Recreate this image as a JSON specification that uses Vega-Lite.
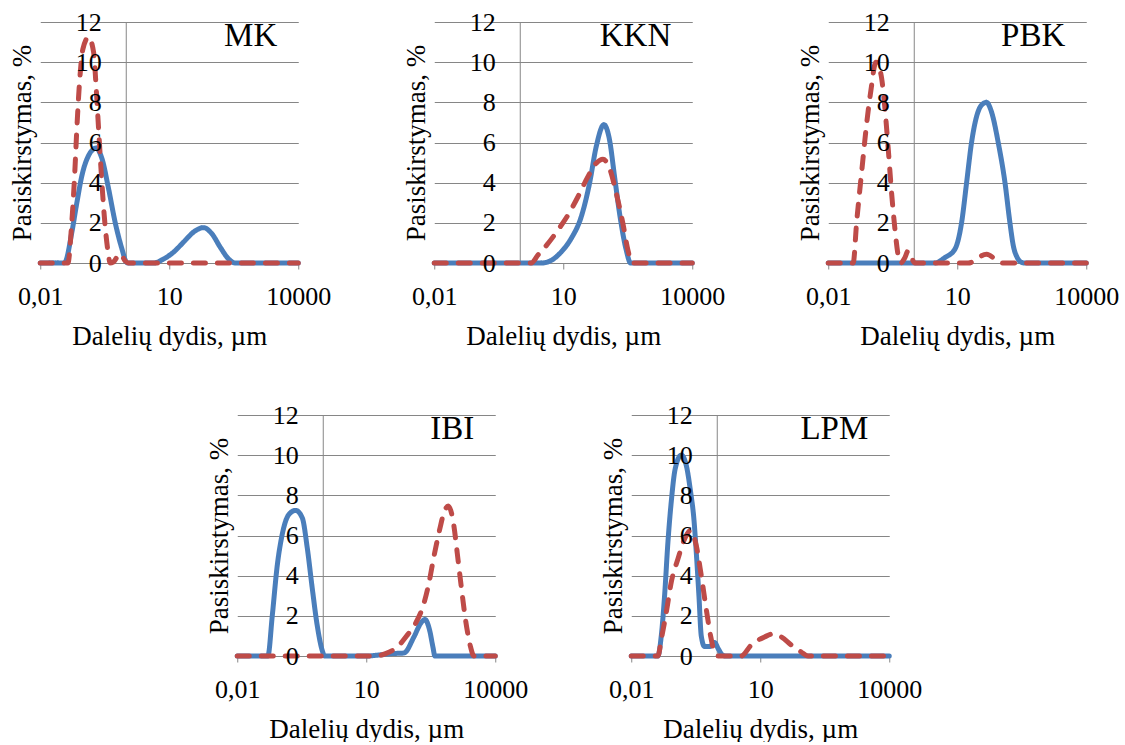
{
  "$schema": "https://vega.github.io/schema/vega-lite/v6.json",
  "padding": {"left": 8, "top": 9, "right": 5, "bottom": 0},
  "datasets": {
    "d": [
      {"p":"MK","s":"a","x":0.01,"y":0},{"p":"MK","s":"a","x":0.034,"y":0},{"p":"MK","s":"a","x":0.038,"y":0.05},{"p":"MK","s":"a","x":0.054,"y":1.5},{"p":"MK","s":"a","x":0.071,"y":3.0},{"p":"MK","s":"a","x":0.093,"y":4.35},{"p":"MK","s":"a","x":0.133,"y":5.35},{"p":"MK","s":"a","x":0.2,"y":5.72},{"p":"MK","s":"a","x":0.272,"y":5.2},{"p":"MK","s":"a","x":0.388,"y":3.7},{"p":"MK","s":"a","x":0.555,"y":2.0},{"p":"MK","s":"a","x":0.794,"y":0.7},{"p":"MK","s":"a","x":1.0,"y":0.05},{"p":"MK","s":"a","x":1.1,"y":0},{"p":"MK","s":"a","x":4.3,"y":0},{"p":"MK","s":"a","x":7.4,"y":0.2},{"p":"MK","s":"a","x":12.6,"y":0.54},{"p":"MK","s":"a","x":21.5,"y":1.04},{"p":"MK","s":"a","x":36.7,"y":1.54},{"p":"MK","s":"a","x":62.8,"y":1.76},{"p":"MK","s":"a","x":97.7,"y":1.46},{"p":"MK","s":"a","x":153,"y":0.79},{"p":"MK","s":"a","x":240,"y":0.2},{"p":"MK","s":"a","x":343,"y":0},{"p":"MK","s":"a","x":10000,"y":0},
      {"p":"KKN","s":"a","x":0.01,"y":0},{"p":"KKN","s":"a","x":3.08,"y":0},{"p":"KKN","s":"a","x":5.26,"y":0.13},{"p":"KKN","s":"a","x":8.97,"y":0.55},{"p":"KKN","s":"a","x":15.3,"y":1.22},{"p":"KKN","s":"a","x":26.2,"y":2.3},{"p":"KKN","s":"a","x":40.9,"y":3.97},{"p":"KKN","s":"a","x":58.5,"y":5.8},{"p":"KKN","s":"a","x":88.3,"y":6.89},{"p":"KKN","s":"a","x":119,"y":6.14},{"p":"KKN","s":"a","x":156,"y":4.3},{"p":"KKN","s":"a","x":204,"y":2.47},{"p":"KKN","s":"a","x":292,"y":0.64},{"p":"KKN","s":"a","x":368,"y":0},{"p":"KKN","s":"a","x":10000,"y":0},
      {"p":"PBK","s":"a","x":0.01,"y":0},{"p":"PBK","s":"a","x":3.02,"y":0},{"p":"PBK","s":"a","x":5.16,"y":0.27},{"p":"PBK","s":"a","x":8.83,"y":0.69},{"p":"PBK","s":"a","x":12.6,"y":2.0},{"p":"PBK","s":"a","x":16.5,"y":4.0},{"p":"PBK","s":"a","x":21.5,"y":6.0},{"p":"PBK","s":"a","x":28.2,"y":7.3},{"p":"PBK","s":"a","x":36.3,"y":7.85},{"p":"PBK","s":"a","x":47.9,"y":8.0},{"p":"PBK","s":"a","x":63.1,"y":7.5},{"p":"PBK","s":"a","x":89.7,"y":6.0},{"p":"PBK","s":"a","x":128.8,"y":4.0},{"p":"PBK","s":"a","x":168,"y":2.0},{"p":"PBK","s":"a","x":199.5,"y":0.9},{"p":"PBK","s":"a","x":251,"y":0.25},{"p":"PBK","s":"a","x":316,"y":0.03},{"p":"PBK","s":"a","x":372,"y":0},{"p":"PBK","s":"a","x":10000,"y":0},
      {"p":"IBI","s":"a","x":0.01,"y":0},{"p":"IBI","s":"a","x":0.0516,"y":0},{"p":"IBI","s":"a","x":0.0652,"y":2.0},{"p":"IBI","s":"a","x":0.0851,"y":4.5},{"p":"IBI","s":"a","x":0.111,"y":6.05},{"p":"IBI","s":"a","x":0.159,"y":7.05},{"p":"IBI","s":"a","x":0.228,"y":7.25},{"p":"IBI","s":"a","x":0.325,"y":6.88},{"p":"IBI","s":"a","x":0.425,"y":5.38},{"p":"IBI","s":"a","x":0.555,"y":3.37},{"p":"IBI","s":"a","x":0.724,"y":1.52},{"p":"IBI","s":"a","x":0.948,"y":0.27},{"p":"IBI","s":"a","x":1.07,"y":0},{"p":"IBI","s":"a","x":10.5,"y":0},{"p":"IBI","s":"a","x":19.7,"y":0.05},{"p":"IBI","s":"a","x":40.3,"y":0.12},{"p":"IBI","s":"a","x":75.2,"y":0.15},{"p":"IBI","s":"a","x":128.5,"y":0.95},{"p":"IBI","s":"a","x":183.7,"y":1.62},{"p":"IBI","s":"a","x":231,"y":1.82},{"p":"IBI","s":"a","x":297,"y":1.29},{"p":"IBI","s":"a","x":355,"y":0.45},{"p":"IBI","s":"a","x":395,"y":0},{"p":"IBI","s":"a","x":10000,"y":0},
      {"p":"LPM","s":"a","x":0.01,"y":0},{"p":"LPM","s":"a","x":0.0417,"y":0},{"p":"LPM","s":"a","x":0.0499,"y":1.0},{"p":"LPM","s":"a","x":0.0596,"y":3.0},{"p":"LPM","s":"a","x":0.0713,"y":5.67},{"p":"LPM","s":"a","x":0.0851,"y":7.67},{"p":"LPM","s":"a","x":0.1054,"y":9.33},{"p":"LPM","s":"a","x":0.1455,"y":10.0},{"p":"LPM","s":"a","x":0.19,"y":9.5},{"p":"LPM","s":"a","x":0.24,"y":8.17},{"p":"LPM","s":"a","x":0.286,"y":6.83},{"p":"LPM","s":"a","x":0.325,"y":5.17},{"p":"LPM","s":"a","x":0.375,"y":3.0},{"p":"LPM","s":"a","x":0.425,"y":1.0},{"p":"LPM","s":"a","x":0.507,"y":0.47},{"p":"LPM","s":"a","x":0.664,"y":0.47},{"p":"LPM","s":"a","x":0.867,"y":0.67},{"p":"LPM","s":"a","x":1.074,"y":0.33},{"p":"LPM","s":"a","x":1.355,"y":0.03},{"p":"LPM","s":"a","x":1.6,"y":0},{"p":"LPM","s":"a","x":10000,"y":0},
      {"p":"MK","s":"b","x":0.01,"y":0},{"p":"MK","s":"b","x":0.044,"y":0},{"p":"MK","s":"b","x":0.054,"y":2.0},{"p":"MK","s":"b","x":0.063,"y":4.35},{"p":"MK","s":"b","x":0.071,"y":6.7},{"p":"MK","s":"b","x":0.082,"y":9.0},{"p":"MK","s":"b","x":0.098,"y":10.65},{"p":"MK","s":"b","x":0.133,"y":11.25},{"p":"MK","s":"b","x":0.174,"y":10.5},{"p":"MK","s":"b","x":0.2,"y":8.7},{"p":"MK","s":"b","x":0.227,"y":6.7},{"p":"MK","s":"b","x":0.262,"y":4.5},{"p":"MK","s":"b","x":0.308,"y":2.35},{"p":"MK","s":"b","x":0.388,"y":0.37},{"p":"MK","s":"b","x":0.417,"y":0},{"p":"MK","s":"b","x":0.5,"y":0.05},{"p":"MK","s":"b","x":0.72,"y":0.46},{"p":"MK","s":"b","x":0.95,"y":0.1},{"p":"MK","s":"b","x":1.12,"y":0},{"p":"MK","s":"b","x":10000,"y":0},
      {"p":"KKN","s":"b","x":0.01,"y":0},{"p":"KKN","s":"b","x":1.8,"y":0},{"p":"KKN","s":"b","x":2.57,"y":0.39},{"p":"KKN","s":"b","x":4.41,"y":0.97},{"p":"KKN","s":"b","x":7.52,"y":1.64},{"p":"KKN","s":"b","x":12.9,"y":2.39},{"p":"KKN","s":"b","x":22,"y":3.3},{"p":"KKN","s":"b","x":37.5,"y":4.3},{"p":"KKN","s":"b","x":58.5,"y":4.97},{"p":"KKN","s":"b","x":83.8,"y":5.17},{"p":"KKN","s":"b","x":119,"y":4.72},{"p":"KKN","s":"b","x":171,"y":3.47},{"p":"KKN","s":"b","x":244,"y":1.97},{"p":"KKN","s":"b","x":319,"y":0.64},{"p":"KKN","s":"b","x":400,"y":0},{"p":"KKN","s":"b","x":10000,"y":0},
      {"p":"PBK","s":"b","x":0.01,"y":0},{"p":"PBK","s":"b","x":0.038,"y":0},{"p":"PBK","s":"b","x":0.0456,"y":2.0},{"p":"PBK","s":"b","x":0.0596,"y":4.5},{"p":"PBK","s":"b","x":0.0778,"y":6.9},{"p":"PBK","s":"b","x":0.0982,"y":8.6},{"p":"PBK","s":"b","x":0.1285,"y":10.0},{"p":"PBK","s":"b","x":0.168,"y":9.4},{"p":"PBK","s":"b","x":0.208,"y":7.7},{"p":"PBK","s":"b","x":0.248,"y":5.7},{"p":"PBK","s":"b","x":0.297,"y":3.5},{"p":"PBK","s":"b","x":0.355,"y":1.7},{"p":"PBK","s":"b","x":0.425,"y":0.35},{"p":"PBK","s":"b","x":0.49,"y":0},{"p":"PBK","s":"b","x":0.6,"y":0.25},{"p":"PBK","s":"b","x":0.72,"y":0.6},{"p":"PBK","s":"b","x":0.85,"y":0.3},{"p":"PBK","s":"b","x":1.04,"y":0},{"p":"PBK","s":"b","x":18,"y":0},{"p":"PBK","s":"b","x":48,"y":0.44},{"p":"PBK","s":"b","x":107,"y":0},{"p":"PBK","s":"b","x":10000,"y":0},
      {"p":"IBI","s":"b","x":0.01,"y":0},{"p":"IBI","s":"b","x":16.5,"y":0},{"p":"IBI","s":"b","x":28.2,"y":0.12},{"p":"IBI","s":"b","x":52.5,"y":0.45},{"p":"IBI","s":"b","x":90,"y":1.04},{"p":"IBI","s":"b","x":140,"y":1.62},{"p":"IBI","s":"b","x":219,"y":2.62},{"p":"IBI","s":"b","x":286,"y":3.62},{"p":"IBI","s":"b","x":375,"y":4.96},{"p":"IBI","s":"b","x":490,"y":6.13},{"p":"IBI","s":"b","x":640,"y":7.13},{"p":"IBI","s":"b","x":807,"y":7.47},{"p":"IBI","s":"b","x":1094,"y":6.47},{"p":"IBI","s":"b","x":1306,"y":5.13},{"p":"IBI","s":"b","x":1618,"y":3.46},{"p":"IBI","s":"b","x":2042,"y":1.79},{"p":"IBI","s":"b","x":2667,"y":0.45},{"p":"IBI","s":"b","x":3192,"y":0},{"p":"IBI","s":"b","x":10000,"y":0},
      {"p":"LPM","s":"b","x":0.01,"y":0},{"p":"LPM","s":"b","x":0.0417,"y":0},{"p":"LPM","s":"b","x":0.0499,"y":0.83},{"p":"LPM","s":"b","x":0.0652,"y":2.17},{"p":"LPM","s":"b","x":0.0851,"y":3.67},{"p":"LPM","s":"b","x":0.1216,"y":4.83},{"p":"LPM","s":"b","x":0.174,"y":5.83},{"p":"LPM","s":"b","x":0.24,"y":6.25},{"p":"LPM","s":"b","x":0.325,"y":5.5},{"p":"LPM","s":"b","x":0.425,"y":4.0},{"p":"LPM","s":"b","x":0.555,"y":2.33},{"p":"LPM","s":"b","x":0.7,"y":1.0},{"p":"LPM","s":"b","x":0.867,"y":0.17},{"p":"LPM","s":"b","x":1.04,"y":0},{"p":"LPM","s":"b","x":3.6,"y":0},{"p":"LPM","s":"b","x":6.2,"y":0.55},{"p":"LPM","s":"b","x":12.6,"y":0.95},{"p":"LPM","s":"b","x":20,"y":1.1},{"p":"LPM","s":"b","x":30.8,"y":0.95},{"p":"LPM","s":"b","x":52.5,"y":0.55},{"p":"LPM","s":"b","x":89.7,"y":0.2},{"p":"LPM","s":"b","x":129,"y":0},{"p":"LPM","s":"b","x":10000,"y":0}
    ],
    "axisline": [{"x": 1}]
  },
  "spacing": 53,
  "center": true,
  "vconcat": [
    {
      "spacing": 71,
      "hconcat": [
        {"width": 258, "height": 241, "title": {"text": "MK"}, "resolve": {"axis": {"y": "independent"}},
         "layer": [
          {"data": {"name": "axisline"}, "mark": {"type": "rule", "color": "#868686", "strokeWidth": 1},
           "encoding": {"x": {"field": "x", "type": "quantitative", "scale": {"type": "log", "domain": [0.01, 10000], "nice": false}},
                        "y": {"datum": 0, "type": "quantitative", "scale": {"domain": [0, 12], "nice": false},
                              "axis": {"values": [0, 2, 4, 6, 8, 10, 12], "title": null, "grid": false, "orient": "left", "zindex": 1}},
                        "y2": {"datum": 12}}},
          {"data": {"name": "d"}, "transform": [{"filter": "datum.p == 'MK'"}],
           "mark": {"type": "line", "interpolate": "monotone", "strokeWidth": 5, "strokeCap": "round"},
           "encoding": {
             "x": {"field": "x", "type": "quantitative", "scale": {"type": "log", "domain": [0.01, 10000], "nice": false},
                   "axis": {"values": [0.01, 10, 10000], "labelExpr": "replace(toString(datum.value), '.', ',')", "title": "Dalelių dydis, µm"}},
             "y": {"field": "y", "type": "quantitative", "scale": {"domain": [0, 12], "nice": false},
                   "axis": {"values": [0, 2, 4, 6, 8, 10, 12], "title": "Pasiskirstymas, %", "labels": false, "grid": true, "orient": "left", "zindex": 0}},
             "color": {"field": "s", "type": "nominal", "scale": {"domain": ["a", "b"], "range": ["#4A7EBB", "#BE4B48"]}, "legend": null},
             "strokeDash": {"field": "s", "type": "nominal", "scale": {"domain": ["a", "b"], "range": [[1, 0], [12, 12]]}, "legend": null}
           }}
         ]},
        {"width": 258, "height": 241, "title": {"text": "KKN"}, "resolve": {"axis": {"y": "independent"}},
         "layer": [
          {"data": {"name": "axisline"}, "mark": {"type": "rule", "color": "#868686", "strokeWidth": 1},
           "encoding": {"x": {"field": "x", "type": "quantitative", "scale": {"type": "log", "domain": [0.01, 10000], "nice": false}},
                        "y": {"datum": 0, "type": "quantitative", "scale": {"domain": [0, 12], "nice": false},
                              "axis": {"values": [0, 2, 4, 6, 8, 10, 12], "title": null, "grid": false, "orient": "left", "zindex": 1}},
                        "y2": {"datum": 12}}},
          {"data": {"name": "d"}, "transform": [{"filter": "datum.p == 'KKN'"}],
           "mark": {"type": "line", "interpolate": "monotone", "strokeWidth": 5, "strokeCap": "round"},
           "encoding": {
             "x": {"field": "x", "type": "quantitative", "scale": {"type": "log", "domain": [0.01, 10000], "nice": false},
                   "axis": {"values": [0.01, 10, 10000], "labelExpr": "replace(toString(datum.value), '.', ',')", "title": "Dalelių dydis, µm"}},
             "y": {"field": "y", "type": "quantitative", "scale": {"domain": [0, 12], "nice": false},
                   "axis": {"values": [0, 2, 4, 6, 8, 10, 12], "title": "Pasiskirstymas, %", "labels": false, "grid": true, "orient": "left", "zindex": 0}},
             "color": {"field": "s", "type": "nominal", "scale": {"domain": ["a", "b"], "range": ["#4A7EBB", "#BE4B48"]}, "legend": null},
             "strokeDash": {"field": "s", "type": "nominal", "scale": {"domain": ["a", "b"], "range": [[1, 0], [12, 12]]}, "legend": null}
           }}
         ]},
        {"width": 258, "height": 241, "title": {"text": "PBK"}, "resolve": {"axis": {"y": "independent"}},
         "layer": [
          {"data": {"name": "axisline"}, "mark": {"type": "rule", "color": "#868686", "strokeWidth": 1},
           "encoding": {"x": {"field": "x", "type": "quantitative", "scale": {"type": "log", "domain": [0.01, 10000], "nice": false}},
                        "y": {"datum": 0, "type": "quantitative", "scale": {"domain": [0, 12], "nice": false},
                              "axis": {"values": [0, 2, 4, 6, 8, 10, 12], "title": null, "grid": false, "orient": "left", "zindex": 1}},
                        "y2": {"datum": 12}}},
          {"data": {"name": "d"}, "transform": [{"filter": "datum.p == 'PBK'"}],
           "mark": {"type": "line", "interpolate": "monotone", "strokeWidth": 5, "strokeCap": "round"},
           "encoding": {
             "x": {"field": "x", "type": "quantitative", "scale": {"type": "log", "domain": [0.01, 10000], "nice": false},
                   "axis": {"values": [0.01, 10, 10000], "labelExpr": "replace(toString(datum.value), '.', ',')", "title": "Dalelių dydis, µm"}},
             "y": {"field": "y", "type": "quantitative", "scale": {"domain": [0, 12], "nice": false},
                   "axis": {"values": [0, 2, 4, 6, 8, 10, 12], "title": "Pasiskirstymas, %", "labels": false, "grid": true, "orient": "left", "zindex": 0}},
             "color": {"field": "s", "type": "nominal", "scale": {"domain": ["a", "b"], "range": ["#4A7EBB", "#BE4B48"]}, "legend": null},
             "strokeDash": {"field": "s", "type": "nominal", "scale": {"domain": ["a", "b"], "range": [[1, 0], [12, 12]]}, "legend": null}
           }}
         ]}
      ]
    },
    {
      "spacing": 71,
      "hconcat": [
        {"width": 258, "height": 241, "title": {"text": "IBI"}, "resolve": {"axis": {"y": "independent"}},
         "layer": [
          {"data": {"name": "axisline"}, "mark": {"type": "rule", "color": "#868686", "strokeWidth": 1},
           "encoding": {"x": {"field": "x", "type": "quantitative", "scale": {"type": "log", "domain": [0.01, 10000], "nice": false}},
                        "y": {"datum": 0, "type": "quantitative", "scale": {"domain": [0, 12], "nice": false},
                              "axis": {"values": [0, 2, 4, 6, 8, 10, 12], "title": null, "grid": false, "orient": "left", "zindex": 1}},
                        "y2": {"datum": 12}}},
          {"data": {"name": "d"}, "transform": [{"filter": "datum.p == 'IBI'"}],
           "mark": {"type": "line", "interpolate": "monotone", "strokeWidth": 5, "strokeCap": "round"},
           "encoding": {
             "x": {"field": "x", "type": "quantitative", "scale": {"type": "log", "domain": [0.01, 10000], "nice": false},
                   "axis": {"values": [0.01, 10, 10000], "labelExpr": "replace(toString(datum.value), '.', ',')", "title": "Dalelių dydis, µm"}},
             "y": {"field": "y", "type": "quantitative", "scale": {"domain": [0, 12], "nice": false},
                   "axis": {"values": [0, 2, 4, 6, 8, 10, 12], "title": "Pasiskirstymas, %", "labels": false, "grid": true, "orient": "left", "zindex": 0}},
             "color": {"field": "s", "type": "nominal", "scale": {"domain": ["a", "b"], "range": ["#4A7EBB", "#BE4B48"]}, "legend": null},
             "strokeDash": {"field": "s", "type": "nominal", "scale": {"domain": ["a", "b"], "range": [[1, 0], [12, 12]]}, "legend": null}
           }}
         ]},
        {"width": 258, "height": 241, "title": {"text": "LPM"}, "resolve": {"axis": {"y": "independent"}},
         "layer": [
          {"data": {"name": "axisline"}, "mark": {"type": "rule", "color": "#868686", "strokeWidth": 1},
           "encoding": {"x": {"field": "x", "type": "quantitative", "scale": {"type": "log", "domain": [0.01, 10000], "nice": false}},
                        "y": {"datum": 0, "type": "quantitative", "scale": {"domain": [0, 12], "nice": false},
                              "axis": {"values": [0, 2, 4, 6, 8, 10, 12], "title": null, "grid": false, "orient": "left", "zindex": 1}},
                        "y2": {"datum": 12}}},
          {"data": {"name": "d"}, "transform": [{"filter": "datum.p == 'LPM'"}],
           "mark": {"type": "line", "interpolate": "monotone", "strokeWidth": 5, "strokeCap": "round"},
           "encoding": {
             "x": {"field": "x", "type": "quantitative", "scale": {"type": "log", "domain": [0.01, 10000], "nice": false},
                   "axis": {"values": [0.01, 10, 10000], "labelExpr": "replace(toString(datum.value), '.', ',')", "title": "Dalelių dydis, µm"}},
             "y": {"field": "y", "type": "quantitative", "scale": {"domain": [0, 12], "nice": false},
                   "axis": {"values": [0, 2, 4, 6, 8, 10, 12], "title": "Pasiskirstymas, %", "labels": false, "grid": true, "orient": "left", "zindex": 0}},
             "color": {"field": "s", "type": "nominal", "scale": {"domain": ["a", "b"], "range": ["#4A7EBB", "#BE4B48"]}, "legend": null},
             "strokeDash": {"field": "s", "type": "nominal", "scale": {"domain": ["a", "b"], "range": [[1, 0], [12, 12]]}, "legend": null}
           }}
         ]}
      ]
    }
  ],
  "config": {
    "view": {"stroke": null},
    "font": "Liberation Serif",
    "axis": {"labelFont": "Liberation Serif", "titleFont": "Liberation Serif"},
    "axisX": {"grid": false, "domainColor": "#868686", "domainWidth": 1, "tickColor": "#868686", "tickSize": 6, "tickWidth": 1,
              "labelFontSize": 26, "labelColor": "#000000", "labelFlush": false, "labelPadding": 14, "labelOverlap": false,
              "titleFontSize": 27, "titleFontWeight": "normal", "titleColor": "#000000", "titlePadding": 14},
    "axisY": {"gridColor": "#868686", "gridOpacity": 1, "gridWidth": 1, "domain": false, "ticks": false,
              "labelFontSize": 26, "labelColor": "#000000", "labelPadding": -61, "labelOverlap": false,
              "titleFontSize": 27, "titleFontWeight": "normal", "titleColor": "#000000",
              "titleX": -10, "titleBaseline": "alphabetic"},
    "title": {"font": "Liberation Serif", "fontSize": 33, "fontWeight": "normal", "color": "#000000", "anchor": "end", "frame": "group",
              "baseline": "alphabetic", "offset": -44, "dx": -21}
  }
}
